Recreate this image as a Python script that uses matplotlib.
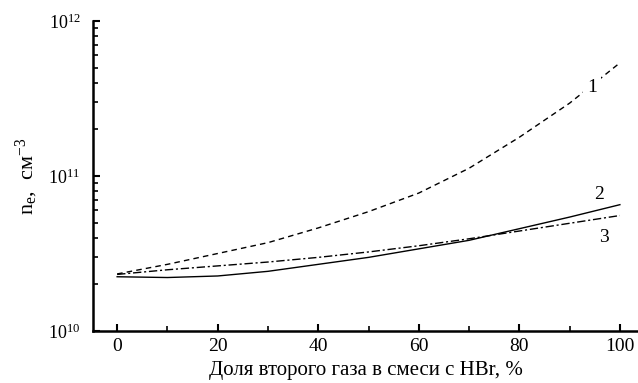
import matplotlib.pyplot as plt
import numpy as np
from matplotlib.ticker import LogLocator, LogFormatterMathtext, MultipleLocator

plt.rcParams['font.family'] = ['Liberation Serif', 'DejaVu Serif']
plt.rcParams['mathtext.fontset'] = 'custom'
plt.rcParams['mathtext.rm'] = 'Liberation Serif'
plt.rcParams['mathtext.it'] = 'Liberation Serif'

# share of second gas, %
x = [0, 10, 20, 30, 40, 50, 60, 70, 80, 90, 100]
# log10 of electron density for curves 1-3
log_n1 = [10.368, 10.43, 10.50, 10.57, 10.665, 10.77, 10.89, 11.05, 11.25, 11.47, 11.73]
log_n2 = [10.35, 10.345, 10.355, 10.385, 10.43, 10.475, 10.53, 10.585, 10.66, 10.735, 10.815]
log_n3 = [10.365, 10.395, 10.42, 10.445, 10.475, 10.51, 10.55, 10.595, 10.645, 10.695, 10.745]

n1 = 10 ** np.array(log_n1)
n2 = 10 ** np.array(log_n2)
n3 = 10 ** np.array(log_n3)

fig = plt.figure(figsize=(6.38, 3.83), dpi=100)
ax = fig.add_axes([93/638, 52/383, 1 - 93/638, 310/383])

ax.plot(x, n1, color='black', lw=1.0, linestyle=(0, (4, 3)))
ax.plot(x, n2, color='black', lw=1.0)
ax.plot(x, n3, color='black', lw=1.0, linestyle=(0, (6, 2, 1.5, 2)))

# curve numbers; "1" breaks the dashed line like in the original
ax.text(94.5, 10**11.57, '1', fontsize=14, ha='center', va='center',
        bbox=dict(facecolor='white', edgecolor='none', pad=3))
ax.text(95.8, 10**10.88, '2', fontsize=14, ha='center', va='center')
ax.text(96.8, 10**10.60, '3', fontsize=14, ha='center', va='center')

ax.set_yscale('log')
ax.set_ylim(1e10, 1e12)
ax.set_xlim(-4.8, 103.6)

ax.xaxis.set_major_locator(MultipleLocator(20))
ax.xaxis.set_minor_locator(MultipleLocator(10))
ax.yaxis.set_major_locator(LogLocator(base=10))
ax.yaxis.set_minor_locator(LogLocator(base=10, subs=np.arange(2, 10)))
ax.yaxis.set_major_formatter(LogFormatterMathtext())

for s in ['top', 'right']:
    ax.spines[s].set_visible(False)
for s in ['left', 'bottom']:
    ax.spines[s].set_linewidth(1.8)

ax.tick_params(which='major', direction='in', length=5, width=1.5)
ax.tick_params(which='minor', direction='in', length=3.5, width=1.2)
ax.tick_params(axis='x', which='major', pad=5, labelsize=14)
ax.tick_params(axis='y', which='major', pad=9, labelsize=13)

ax.set_xlabel('Доля второго газа в смеси с HBr, %', fontsize=15, labelpad=4)
ax.set_ylabel('n$_e$,  см$^{-3}$', fontsize=16, labelpad=6)

plt.savefig('out.png', dpi=100)
